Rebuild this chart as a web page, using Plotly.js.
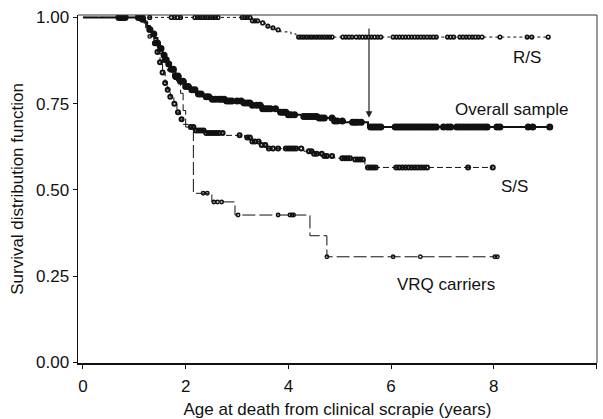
<!DOCTYPE html>
<html>
<head>
<meta charset="utf-8">
<script src="https://cdn.plot.ly/plotly-3.0.1.min.js"></script>
<style>
  html, body { margin: 0; padding: 0; background: #fff; }
  #chart { width: 603px; height: 419px; }
</style>
</head>
<body>
<div id="chart"></div>
<script>
// ---- Data (Kaplan-Meier step curves) ----
// Overall sample
const overallT = [0, 1.15, 1.2, 1.25, 1.3, 1.35, 1.4, 1.45, 1.5, 1.55, 1.6, 1.65, 1.7, 1.8, 1.9, 2.0, 2.1, 2.2, 2.35, 2.5, 2.8, 3.1, 3.3, 3.5, 3.8, 4.0, 4.3, 4.6, 4.9, 5.1, 5.55, 9.09];
const overallS = [1, 0.995, 0.985, 0.975, 0.965, 0.952, 0.94, 0.926, 0.91, 0.89, 0.877, 0.865, 0.85, 0.83, 0.815, 0.80, 0.79, 0.778, 0.77, 0.763, 0.758, 0.752, 0.745, 0.735, 0.725, 0.718, 0.713, 0.708, 0.70, 0.696, 0.682, 0.682];
const overallCens = [0.7, 0.74, 0.78, 0.82, 1.08, 1.12, 1.16,
  1.3, 1.38, 1.45, 1.52, 1.58, 1.62, 1.67, 1.72, 1.76, 1.8, 1.85, 1.9, 1.95, 2.0, 2.05, 2.12, 2.18, 2.25, 2.3, 2.4, 2.45, 2.52, 2.58, 2.65, 2.7, 2.75, 2.8, 2.85, 2.9, 3.0, 3.08, 3.14, 3.2, 3.25, 3.3, 3.38, 3.45, 3.5, 3.55, 3.6, 3.65, 3.75, 3.85, 3.9, 3.95, 4.0, 4.05, 4.12, 4.3, 4.35, 4.4, 4.45, 4.5, 4.55, 4.6, 4.65, 4.7, 4.85, 4.9, 4.95, 5.05, 5.25, 5.3, 5.35, 5.42,
  5.6, 5.65, 5.7, 5.75, 5.8, 6.08, 6.13, 6.18, 6.23, 6.28, 6.33, 6.38, 6.43, 6.48, 6.53, 6.58, 6.63, 6.68, 6.73, 6.78, 6.83, 6.88, 7.02, 7.1, 7.16, 7.28, 7.34, 7.4, 7.46, 7.52, 7.58, 7.64, 7.7, 7.76, 7.82, 7.87, 8.06, 8.12, 8.67, 8.76, 9.09];

// R/S
const rsT = [0, 3.3, 3.45, 3.55, 3.65, 3.75, 3.85, 4.05, 4.15, 9.06];
const rsS = [1, 0.99, 0.984, 0.975, 0.97, 0.964, 0.958, 0.952, 0.943, 0.943];
const rsCens = [1.17, 1.3, 1.72, 1.78, 1.84, 1.9, 2.18, 2.23, 2.28, 2.33, 2.38, 2.43, 2.48, 2.53, 2.58, 2.63, 3.1, 3.15, 3.2, 3.25, 3.3, 3.35, 3.4, 3.5, 3.6, 3.7, 3.8,
  4.2, 4.25, 4.3, 4.35, 4.4, 4.45, 4.5, 4.55, 4.6, 4.65, 4.7, 4.75, 4.8, 4.85, 5.06, 5.12, 5.18, 5.24, 5.32, 5.38, 5.44, 5.5, 5.56, 5.62, 5.68, 5.74, 5.8,
  6.04, 6.1, 6.16, 6.22, 6.28, 6.34, 6.4, 6.46, 6.52, 6.58, 6.64, 6.7, 6.76, 6.82, 6.88, 7.1, 7.16, 7.22, 7.34, 7.4, 7.46, 7.52, 7.58, 7.64, 7.7, 7.77, 8.12, 8.65, 8.74, 9.06];

// S/S
const ssT = [0, 1.2, 1.25, 1.3, 1.35, 1.4, 1.45, 1.5, 1.55, 1.6, 1.65, 1.7, 1.77, 1.83, 1.9, 1.95, 2.05, 2.2, 2.4, 2.75, 3.15, 3.3, 3.45, 3.6, 4.3, 4.5, 4.7, 4.9, 5.3, 5.49, 7.98];
const ssS = [1, 0.99, 0.975, 0.96, 0.945, 0.925, 0.9, 0.87, 0.84, 0.81, 0.79, 0.77, 0.75, 0.725, 0.705, 0.69, 0.682, 0.672, 0.665, 0.658, 0.652, 0.64, 0.63, 0.62, 0.612, 0.605, 0.598, 0.592, 0.588, 0.565, 0.565];
const ssCens = [0.72, 0.78, 1.1, 1.15,
  1.4, 1.45, 1.5, 1.55, 1.6, 1.65, 1.7, 1.78, 1.85, 1.92,
  2.1, 2.15, 2.2, 2.25, 2.3, 2.35, 2.4, 2.45, 2.5, 2.55, 2.6, 2.65, 2.72, 3.05, 3.2, 3.25, 3.3, 3.35, 3.42, 3.48, 3.55, 3.62, 3.7, 3.8, 3.95, 4.0, 4.05, 4.1, 4.15, 4.25, 4.4, 4.45, 4.5, 4.55, 4.65, 4.7, 4.75, 4.85, 5.05, 5.1, 5.15, 5.2, 5.3, 5.35, 5.4, 5.45,
  5.55, 5.6, 5.65, 5.7, 6.1, 6.16, 6.22, 6.28, 6.34, 6.4, 6.46, 6.52, 6.58, 6.64, 6.7, 7.5, 7.98];

// VRQ carriers
const vrqT = [0, 1.22, 1.3, 1.38, 1.46, 1.55, 1.65, 1.75, 1.9, 1.95, 2.0, 2.15, 2.51, 2.96, 4.42, 4.75, 8.08];
const vrqS = [1, 0.97, 0.945, 0.92, 0.895, 0.87, 0.845, 0.82, 0.78, 0.73, 0.682, 0.49, 0.465, 0.427, 0.367, 0.306, 0.306];
const vrqCens = [1.3, 1.85, 2.34, 2.42, 2.55, 2.62, 2.7, 3.02, 3.8, 4.03, 4.07, 4.1, 4.75, 6.04, 6.57, 8.02, 8.07];

// Axis ticks
const xTicks = [0, 2, 4, 6, 8, 10];
const yTicks = [0, 0.25, 0.5, 0.75, 1.0];

// Labels
const curveLabels = ["R/S", "Overall sample", "S/S", "VRQ carriers"];

// ---- helpers ----
function stepAt(T, S, t) {
  let v = S[0];
  for (let i = 0; i < T.length; i++) { if (T[i] <= t) v = S[i]; }
  return v;
}
function lineTrace(T, S, dash, width) {
  return { x: T, y: S, type: 'scatter', mode: 'lines', line: { shape: 'hv', color: '#111', width: width, dash: dash }, hoverinfo: 'skip', showlegend: false };
}
function censTrace(T, S, C, size, lw) {
  return { x: C, y: C.map(t => stepAt(T, S, t)), type: 'scatter', mode: 'markers',
    marker: { symbol: 'circle-open', size: size, color: '#111', line: { color: '#111', width: lw } },
    hoverinfo: 'skip', showlegend: false };
}

const data = [
  lineTrace(vrqT, vrqS, '13px,4px', 1),
  lineTrace(ssT, ssS, '6px,3px', 1),
  lineTrace(rsT, rsS, 'dot', 1),
  lineTrace(overallT, overallS, 'solid', 2),
  censTrace(vrqT, vrqS, vrqCens, 3.5, 1.4),
  censTrace(ssT, ssS, ssCens, 4, 2),
  censTrace(rsT, rsS, rsCens, 3.6, 1.6),
  censTrace(overallT, overallS, overallCens, 4, 3)
];

const fontFam = '"Liberation Sans", Arial, Helvetica, sans-serif';
const layout = {
  width: 603, height: 419,
  margin: { l: 78, r: 6, t: 15, b: 56 },
  paper_bgcolor: '#fff', plot_bgcolor: '#fff',
  font: { family: fontFam, size: 17, color: '#111' },
  xaxis: {
    range: [-0.097, 10.01], tickvals: xTicks, ticktext: xTicks.map(String),
    showgrid: false, zeroline: false, showline: true, linecolor: '#111', linewidth: 1.5,
    ticks: 'outside', ticklen: 4, tickcolor: '#111', tickwidth: 1,
    ticklabelstandoff: 3,
    tickfont: { size: 17 },
    title: { text: 'Age at death from clinical scrapie (years)', font: { size: 17 }, standoff: 8 }
  },
  yaxis: {
    range: [-0.002, 1.007], tickvals: yTicks, ticktext: yTicks.map(v => v.toFixed(2)),
    showgrid: false, zeroline: false, showline: true, linecolor: '#111', linewidth: 1.5,
    ticks: 'outside', ticklen: 4, tickcolor: '#111', tickwidth: 1,
    tickfont: { size: 17 },
    title: { text: 'Survival distribution function', font: { size: 17 }, standoff: 8 }
  },
  shapes: [
    { type: 'line', xref: 'paper', yref: 'paper', x0: 0, x1: 1, y0: 1, y1: 1, line: { color: '#333', width: 1 } },
    { type: 'line', xref: 'paper', yref: 'paper', x0: 1, x1: 1, y0: 0, y1: 1, line: { color: '#333', width: 1 } }
  ],
  annotations: [
    { x: 8.65, y: 0.883, xref: 'x', yref: 'y', text: curveLabels[0], showarrow: false, font: { size: 17 } },
    { x: 8.35, y: 0.732, xref: 'x', yref: 'y', text: curveLabels[1], showarrow: false, font: { size: 17 } },
    { x: 8.41, y: 0.511, xref: 'x', yref: 'y', text: curveLabels[2], showarrow: false, font: { size: 17 } },
    { x: 7.07, y: 0.225, xref: 'x', yref: 'y', text: curveLabels[3], showarrow: false, font: { size: 17 } },
    { x: 5.57, y: 0.709, xref: 'x', yref: 'y', ax: 5.57, ay: 0.972, axref: 'x', ayref: 'y', text: '',
      showarrow: true, arrowhead: 2, arrowsize: 1.1, arrowwidth: 1.2, arrowcolor: '#222' }
  ]
};

Plotly.newPlot('chart', data, layout, { staticPlot: true, displayModeBar: false });
</script>
</body>
</html>
